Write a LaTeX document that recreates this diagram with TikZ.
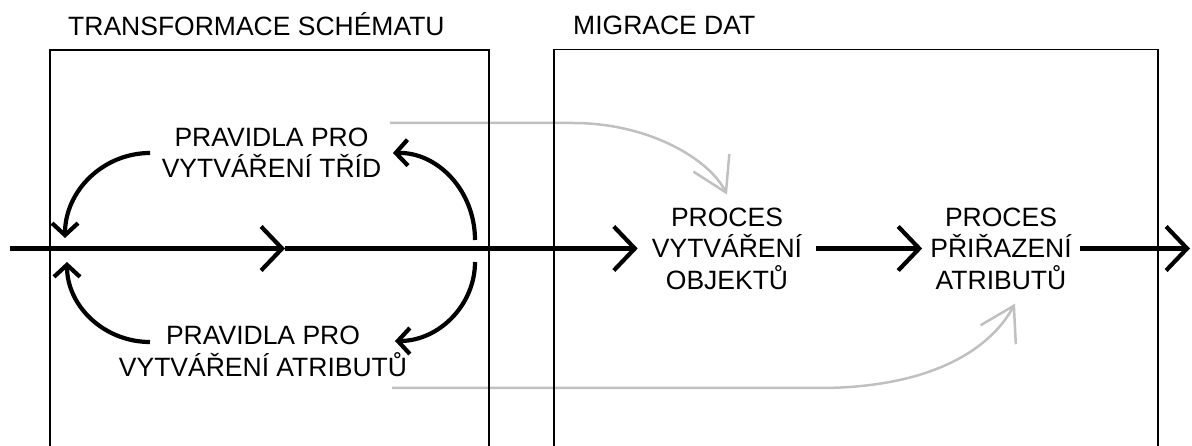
\documentclass[tikz,border=0pt]{standalone}
\usepackage{fontspec}
\setmainfont{Liberation Sans}
\usetikzlibrary{arrows.meta}
\definecolor{silver}{RGB}{192,192,192}
\begin{document}
\begin{tikzpicture}[x=1pt,y=-1pt,
  lbl/.style={font=\fontsize{26.5}{31.5}\selectfont, align=center, inner sep=0pt},
  frame/.style={line width=1.5pt, black},
  flow/.style={line width=4.2pt, -{Straight Barb[length=21pt,width=44pt]}},
  loop/.style={line width=4.2pt, -{Straight Barb[length=12pt,width=26pt]}},
  feed/.style={line width=2.5pt, silver, -{Straight Barb[length=33pt,width=40pt]}}]
\useasboundingbox (0,0) rectangle (1192,446);
% titles
\node[lbl, anchor=base west] (t1) at (68,36) {TRANSFORMACE SCHÉMATU};
\node[lbl, anchor=base west] (t2) at (573,35) {MIGRACE DAT};
% text nodes
\node[lbl, inner xsep=11.5pt] (r1) at (271.5,153) {PRAVIDLA PRO\\VYTVÁŘENÍ TŘÍD};
\node[lbl] (r2) at (263,351.5) {PRAVIDLA PRO\\VYTVÁŘENÍ ATRIBUTŮ};
\node[lbl, inner xsep=14pt, outer ysep=13pt] (p1) at (727,248.5) {PROCES\\VYTVÁŘENÍ\\OBJEKTŮ};
\node[lbl, inner xsep=8pt] (p2) at (1001,248.5) {PROCES\\PŘIŘAZENÍ\\ATRIBUTŮ};
% coordinates
\coordinate (in) at (10,248.5);
\coordinate (mid) at (285,248.5);
\coordinate (out) at (1190,248.5);
\coordinate (lt) at (65,238);
\coordinate (lb) at (67,262);
\coordinate (rt) at (475,240);
\coordinate (rb) at (475,262);
\coordinate (la) at (150,342);
\coordinate (ra) at (395,341);
\coordinate (g1) at (390,123);
\coordinate (g2) at (392,388);
% grey feeds
\draw[feed] (g1) -- (573,123) .. controls (650,123) and (710,160) .. (p1.north);
\draw[feed] (g2) -- (819,388) .. controls (930,388) and (990,350) .. ([xshift=14pt,yshift=-14pt]p2.south);
% frames
\draw[frame] (50,447) -- (50,50) -- (489,50) -- (489,447);
\draw[frame] (554,447) -- (554,49.5) -- (1158,49.5) -- (1158,447);
% main flow
\draw[flow] (in) -- (mid);
\draw[flow] (mid) -- (p1.west);
\draw[flow] (p1.east) -- (p2.west);
\draw[flow] (p2.east) -- (out);
% loops
\draw[loop] (r1.west) .. controls (103,153) and (65,191) .. (lt);
\draw[loop] (rt) .. controls (475,191) and (438,152) .. (r1.east);
\draw[loop] (la) .. controls (104,342) and (67,306) .. (lb);
\draw[loop] (rb) .. controls (475,305) and (439,341) .. (ra);
\end{tikzpicture}
\end{document}
